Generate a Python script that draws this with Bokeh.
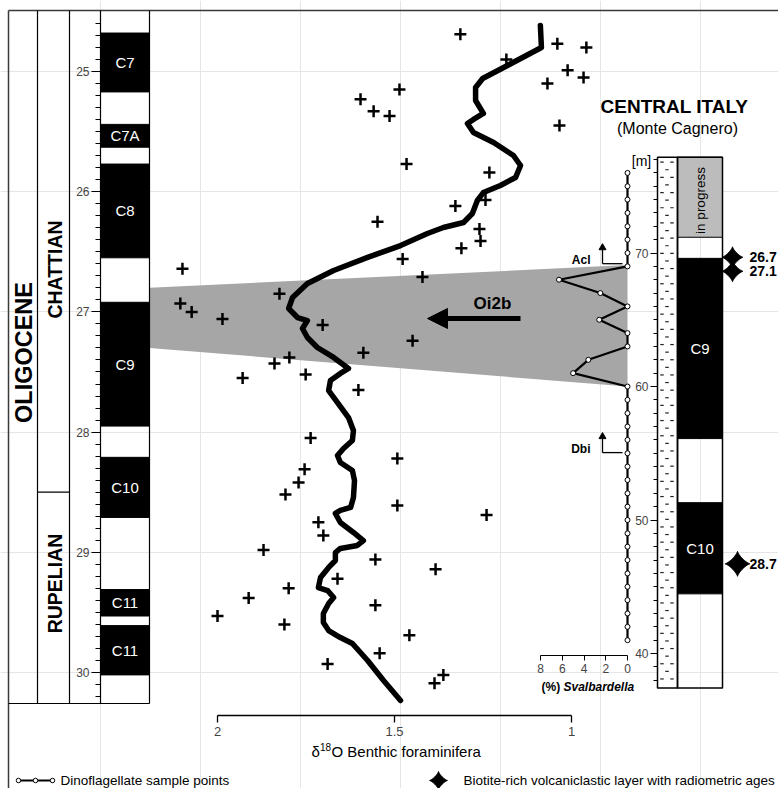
import numpy as np
from bokeh.plotting import figure
from bokeh.models import Range1d, LinearAxis, FixedTicker, Arrow, NormalHead
from bokeh.core.properties import value
from bokeh.embed import file_html
from bokeh.resources import INLINE

FONT = "Liberation Sans"

# ---------------- data ----------------
age_ticks = [25, 26, 27, 28, 29, 30]
age_minor_ticks = [float(v) for v in np.round(np.arange(24.6, 30.25, 0.1), 1)]

# magnetochrons (GPTS column, Ma)
chron_names = ["C7", "C7A", "C8", "C9", "C10", "C11", "C11"]
chron_top_age = [24.68, 25.44, 25.77, 26.92, 28.21, 29.31, 29.61]
chron_base_age = [25.17, 25.63, 26.55, 27.95, 28.71, 29.53, 30.02]

stage_names = ["CHATTIAN", "RUPELIAN"]
stage_boundary_age = 28.5

# benthic foraminifera d18O samples
d18o_val = [1.314, 1.040, 1.184, 1.011, 1.068, 1.486, 1.596, 1.559, 1.514, 1.034,
            1.466, 1.232, 1.243, 1.328, 1.548, 1.260, 1.257, 1.311, 1.477, 1.421,
            1.825, 1.986, 1.703, 1.449, 0.958, 0.966, 2.099, 2.105, 2.073, 1.588,
            1.797, 1.839, 1.929, 1.751, 1.602, 1.737, 1.492, 1.754, 1.771, 1.808,
            1.492, 1.240, 1.715, 1.701, 1.870, 1.554, 1.384, 1.661, 1.799, 1.912,
            1.554, 2.000, 1.811, 1.458, 1.542, 1.689, 1.362, 1.387]
d18o_age = [24.69, 24.77, 24.90, 24.99, 25.10, 25.15, 25.23, 25.33, 25.37, 25.45,
            25.77, 25.84, 26.07, 26.12, 26.25, 26.31, 26.41, 26.47, 26.56, 26.71,
            26.85, 27.06, 27.11, 27.24, 24.80, 25.05, 26.64, 26.93, 27.00, 27.34,
            27.38, 27.43, 27.55, 27.52, 27.65, 28.05, 28.22, 28.31, 28.42, 28.52,
            28.61, 28.69, 28.75, 28.86, 28.98, 29.06, 29.14, 29.22, 29.30, 29.38,
            29.44, 29.53, 29.60, 29.69, 29.84, 29.93, 30.02, 30.09]

# smoothed d18O curve
curve_val = [1.088, 1.085, 1.181, 1.251, 1.271, 1.271, 1.249, 1.277, 1.294, 1.277,
             1.220, 1.164, 1.144, 1.158, 1.201, 1.249, 1.266, 1.280, 1.305, 1.362,
             1.407, 1.483, 1.576, 1.672, 1.746, 1.788, 1.799, 1.774, 1.746, 1.760,
             1.746, 1.718, 1.672, 1.630, 1.653, 1.681, 1.686, 1.661, 1.630, 1.616,
             1.619, 1.644, 1.661, 1.653, 1.619, 1.613, 1.616, 1.624, 1.653, 1.667,
             1.653, 1.616, 1.588, 1.605, 1.653, 1.667, 1.667, 1.686, 1.709, 1.715,
             1.689, 1.672, 1.686, 1.701, 1.701, 1.686, 1.653, 1.619, 1.576, 1.531,
             1.483]
curve_age = [24.617, 24.800, 24.950, 25.058, 25.133, 25.241, 25.349, 25.399, 25.433, 25.507,
             25.591, 25.699, 25.782, 25.882, 25.948, 26.007, 26.073, 26.181, 26.256, 26.298,
             26.348, 26.448, 26.547, 26.656, 26.764, 26.880, 26.972, 27.047, 27.072, 27.138,
             27.213, 27.296, 27.379, 27.471, 27.512, 27.571, 27.654, 27.754, 27.879, 27.987,
             28.070, 28.136, 28.195, 28.253, 28.319, 28.403, 28.544, 28.627, 28.652, 28.677,
             28.752, 28.835, 28.902, 28.943, 28.968, 29.002, 29.068, 29.126, 29.210, 29.293,
             29.318, 29.376, 29.426, 29.509, 29.584, 29.651, 29.709, 29.759, 29.900, 30.067,
             30.233]
d18o_ticks = [1, 1.5, 2]

# Monte Cagnero section (meters)
sval_m = [41, 42, 43, 44, 45, 46, 47, 48, 49, 50, 51, 52, 53, 54, 55, 56, 57, 58,
          59, 60, 61, 62, 63, 64, 65, 66, 67, 68, 69, 70, 71, 72, 73, 74, 75, 76]
sval_pct = [0, 0, 0, 0, 0, 0, 0, 0, 0, 0, 0, 0, 0, 0, 0, 0, 0, 0,
            0, 0, 5.0, 3.6, 0, 0, 2.6, 0, 2.5, 6.3, 0, 0, 0, 0, 0, 0, 0, 0]
sval_ticks = [0, 2, 4, 6, 8]
m_ticks = [40, 50, 60, 70]
m_minor_ticks = list(range(38, 78))

section_top_m = 77.18
section_base_m = 37.42
progress_top_m = 77.18
progress_base_m = 71.18
chron_r_names = ["C9", "C10"]
chron_r_top_m = [69.60, 51.30]
chron_r_base_m = [56.10, 44.47]

ash_m = [69.68, 68.63, 46.72]
ash_ages = ["26.7", "27.1", "28.7"]

event_names = ["Acl", "Dbi"]
event_m = [69.2, 55.05]

band_age = [26.80, 27.30]   # Oi2b interval on the age scale (top, base)
band_m = [69.1, 60.0]       # Oi2b interval in the section (top, base)

# ---------------- layout (page pixels) ----------------
PX0, PX1 = 0, 778
PY0, PY1 = 0, 788
AGE_TOP, AGE_BOT = 24.4093, 30.9651
M_TOP, M_BOT = 88.914, 29.89
D_LEFT, D_RIGHT = 2.613, 0.4153
S_LEFT, S_RIGHT = 57.655, -13.885


def m_to_py(m):
    return PY0 + (M_TOP - m) / (M_TOP - M_BOT) * (PY1 - PY0)


def py_to_age(py):
    return AGE_TOP + (py - PY0) / (PY1 - PY0) * (AGE_BOT - AGE_TOP)


def s_to_px(s):
    return PX0 + (S_LEFT - s) / (S_LEFT - S_RIGHT) * (PX1 - PX0)


p = figure(width=778, height=788, x_range=Range1d(PX0, PX1),
           y_range=Range1d(AGE_BOT, AGE_TOP), output_backend="svg",
           toolbar_location=None, x_axis_location=None, y_axis_location=None,
           min_border=0, outline_line_color=None)
p.extra_x_ranges = {"d18o": Range1d(D_LEFT, D_RIGHT), "sval": Range1d(S_LEFT, S_RIGHT)}
p.extra_y_ranges = {"m": Range1d(M_BOT, M_TOP), "py": Range1d(PY1, PY0)}
p.background_fill_color = "white"
p.border_fill_color = "white"


def txt(x, y, s, size, style="normal", align="center", baseline="middle",
        angle=0.0, color="black", yr="py", xr="default", font=FONT):
    p.text(x=[x], y=[y], text=[s], text_font=value(font),
           text_font_size=value(f"{size}px"), text_font_style=value(style),
           text_align=value(align), text_baseline=value(baseline), angle=angle,
           text_color=color, y_range_name=yr, x_range_name=xr)


# Oi2b band
COL_R = 149
sval0_px = s_to_px(0)
band_x = [COL_R, sval0_px, sval0_px, COL_R]
band_y = [band_age[0], py_to_age(m_to_py(band_m[0])),
          py_to_age(m_to_py(band_m[1])), band_age[1]]
p.patch(x=band_x, y=band_y, fill_color="#a6a6a6", line_color=None)

# left chron column
p.quad(left=100, right=COL_R, top=chron_top_age, bottom=chron_base_age,
       fill_color="black", line_color="black")
mid_age = [(a + b) / 2 for a, b in zip(chron_top_age, chron_base_age)]
p.text(x=[124.5] * len(chron_names), y=mid_age, text=chron_names,
       text_font=value(FONT), text_font_size=value("15px"), text_color="white",
       text_align="center", text_baseline="middle")

# frame lines
p.segment(x0=[8, 8], y0=[10, 10], x1=[778, 8], y1=[10, 788],
          y_range_name="py", line_color="#3a3a3a", line_width=1.5)
p.segment(x0=[37, 69, 100, COL_R, 8], y0=[10, 10, 10, 10, 703],
          x1=[37, 69, 100, COL_R, COL_R], y1=[703, 703, 703, 703, 703],
          y_range_name="py", line_color="black", line_width=1.2)
p.segment(x0=[37], y0=[stage_boundary_age], x1=[69], y1=[stage_boundary_age],
          line_color="black", line_width=1.2)

# stage / epoch labels
txt(23, 352, "OLIGOCENE", 23.5, "bold", angle=np.pi / 2)
txt(54, 269, stage_names[0], 19.5, "bold", angle=np.pi / 2)
txt(54, 583, stage_names[1], 19.5, "bold", angle=np.pi / 2)

# age axis
age_axis = LinearAxis(fixed_location=100,
                      ticker=FixedTicker(ticks=age_ticks, minor_ticks=age_minor_ticks),
                      axis_line_color=None, major_tick_in=0, major_tick_out=9,
                      minor_tick_in=0, minor_tick_out=5, major_tick_line_width=1.2,
                      major_label_text_font=FONT, major_label_text_font_size="12px",
                      major_label_standoff=2)
p.add_layout(age_axis, "left")

# d18O curve and samples
p.line(x=curve_val, y=curve_age, x_range_name="d18o", line_color="black",
       line_width=5.5, line_join="round", line_cap="round")
p.scatter(x=d18o_val, y=d18o_age, x_range_name="d18o", marker="cross", size=12,
          line_color="black", line_width=2.5)

d_axis = LinearAxis(x_range_name="d18o", y_range_name="py", fixed_location=715,
                    bounds=(1, 2), ticker=FixedTicker(ticks=d18o_ticks, minor_ticks=[]),
                    major_tick_in=0, major_tick_out=7, axis_line_width=1.3,
                    major_tick_line_width=1.3, major_label_text_font=FONT,
                    major_label_text_font_size="13px", major_label_standoff=4,
                    major_label_overrides={1: "1", 1.5: "1.5", 2: "2"})
p.add_layout(d_axis, "below")
txt(311, 751, "δ", 15, align="left")
txt(319.5, 746, "18", 10, align="left")
txt(331, 751, "O  Benthic foraminifera", 15, align="left")

# Oi2b arrow
p.add_layout(Arrow(end=NormalHead(size=20, fill_color="black", line_color="black"),
                   x_start=520, y_start=318, x_end=427, y_end=318,
                   line_width=5, line_color="black", y_range_name="py"))
txt(492, 303, "Oi2b", 17, "bold")

# Svalbardella
p.line(x=sval_pct, y=sval_m, x_range_name="sval", y_range_name="m",
       line_color="black", line_width=2.2)
p.scatter(x=sval_pct, y=sval_m, x_range_name="sval", y_range_name="m",
          marker="circle", size=5, fill_color="white", line_color="black", line_width=1)
s_axis = LinearAxis(x_range_name="sval", y_range_name="py", fixed_location=655,
                    bounds=(0, 8), ticker=FixedTicker(ticks=sval_ticks, minor_ticks=[]),
                    major_tick_in=0, major_tick_out=5, axis_line_width=1.2,
                    major_label_text_font=FONT, major_label_text_font_size="12px",
                    major_label_standoff=3)
p.add_layout(s_axis, "below")
txt(541, 686, "(%)", 12, "bold", align="left")
txt(563, 686, "Svalbardella", 12, "bold italic", align="left")

# bioevents (first occurrences)
for name, m in zip(event_names, event_m):
    base = m_to_py(m)
    p.segment(x0=[602, 602], y0=[base, base], x1=[602, 622], y1=[base - 15, base],
              y_range_name="py", line_color="black", line_width=1.3)
    p.scatter(x=[602], y=[base - 16], y_range_name="py", marker="triangle",
              size=7, fill_color="black", line_color="black")
    txt(590, base - 4, name, 12, "bold", align="right")

# lithology column (silty marls: dashed texture) + chron column of the section
p.quad(left=657, right=677, top=section_top_m, bottom=section_base_m, y_range_name="m",
       fill_color="white", line_color=None)
row_y = np.arange(m_to_py(section_top_m) + 5, m_to_py(section_base_m) - 2, 7.6)
dash_x, dash_y = [], []
for i, yy in enumerate(row_y):
    cols = [661.5, 671.5] if i % 2 == 0 else [666.5]
    for xx in cols:
        dash_x.append(xx)
        dash_y.append(yy)
p.scatter(x=dash_x, y=dash_y, y_range_name="py", marker="dash", size=3.5,
          line_color="#222222", line_width=1.2)
p.quad(left=677, right=722, top=progress_top_m, bottom=progress_base_m, y_range_name="m",
       fill_color="#bcbcbc", line_color="black", line_width=1)
p.quad(left=677, right=722, top=chron_r_top_m, bottom=chron_r_base_m, y_range_name="m",
       fill_color="black", line_color="black")
p.quad(left=[657, 677], right=[677, 722], top=section_top_m, bottom=section_base_m,
       y_range_name="m", fill_color=None, line_color="black", line_width=1.5)
p.text(x=[699.5] * 2, y=[(a + b) / 2 for a, b in zip(chron_r_top_m, chron_r_base_m)],
       text=chron_r_names, y_range_name="m", text_font=value(FONT),
       text_font_size=value("15px"), text_color="white", text_align="center",
       text_baseline="middle")
txt(700, 200, "in progress", 13.5, angle=np.pi / 2)

m_axis = LinearAxis(y_range_name="m", fixed_location=657,
                    ticker=FixedTicker(ticks=m_ticks, minor_ticks=m_minor_ticks),
                    axis_line_color=None, major_tick_in=0, major_tick_out=7,
                    minor_tick_in=0, minor_tick_out=4, major_label_text_font=FONT,
                    major_label_text_font_size="12px", major_label_standoff=2)
p.add_layout(m_axis, "left")
txt(641, 160, "[m]", 14)


# radiometric ages (four-pointed stars)
def star(cx, cy, r):
    t = np.linspace(0, 2 * np.pi, 81)
    c, s = np.cos(t), np.sin(t)
    return list(cx + r * np.sign(c) * np.abs(c) ** 2.6), list(cy + r * np.sign(s) * np.abs(s) ** 2.6)


star_px = [732, 732, 737]
star_r = [10.5, 10.5, 12.5]
xs, ys = [], []
for m, cx, r in zip(ash_m, star_px, star_r):
    sx, sy = star(cx, m_to_py(m), r)
    xs.append(sx)
    ys.append(sy)
sx, sy = star(438, 780, 9)
xs.append(sx)
ys.append(sy)
p.patches(xs=xs, ys=ys, y_range_name="py", fill_color="black", line_color="black")
for m, lab in zip(ash_m, ash_ages):
    txt(749, m_to_py(m), lab, 14, "bold", align="left")

# titles
txt(674, 106, "CENTRAL ITALY", 19, "bold")
txt(677, 128, "(Monte Cagnero)", 16)

# legend
p.line(x=[18, 52], y=[780, 780], y_range_name="py", line_color="black", line_width=2)
p.scatter(x=[18, 35, 52], y=[780, 780, 780], y_range_name="py", marker="circle",
          size=4.5, fill_color="white", line_color="black", line_width=1)
txt(60, 780, "Dinoflagellate sample points", 13.5, align="left")
txt(463, 780, "Biotite-rich volcaniclastic layer with radiometric ages", 13.5, align="left")

open("out.html", "w").write(file_html(p, INLINE))
